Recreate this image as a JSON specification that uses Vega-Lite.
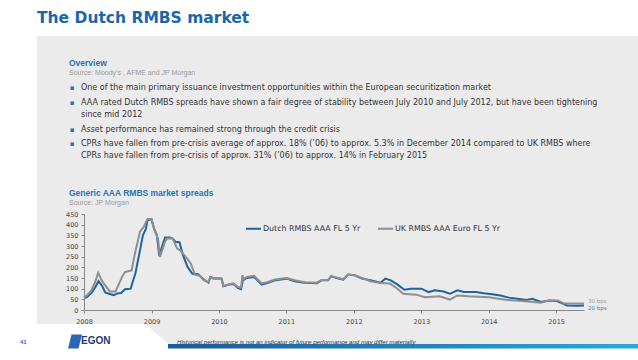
{
  "$schema": "https://vega.github.io/schema/vega-lite/v6.json",
  "width": 500,
  "height": 96,
  "autosize": {"type": "none"},
  "padding": {"left": 84, "top": 214, "right": 54, "bottom": 50},
  "background": "white",
  "config": {"view": {"stroke": null}, "font": "DejaVu Sans"},
  "data": {"values": [{}]},
  "layer": [
    {"mark": {"type": "rect", "x": -47, "x2": 554, "y": -178, "y2": 110, "fill": "#ebebeb"}, "encoding": {}},
    {"mark": {"type": "rect", "x": 86, "x2": 554, "y": 109, "y2": 131, "fill": "#ebebeb"}, "encoding": {}},
    {"mark": {"type": "point", "shape": "M-1,-0.84L1,-0.84L1,0.84Z", "size": 625, "x": 73.5, "y": 120.5, "filled": true, "fill": "#ebebeb", "stroke": null, "opacity": 1}, "encoding": {}},
    {"mark": {"type": "rect", "x": 84, "x2": 554, "y": 130, "y2": 134.5, "color": {"gradient": "linear", "x1": 0, "x2": 1, "y1": 0, "y2": 0, "stops": [{"offset": 0, "color": "#1b5896"}, {"offset": 1, "color": "#2aa9dd"}]}}, "encoding": {}},
    {"mark": {"type": "text", "text": "The Dutch RMBS market", "x": -47, "y": -196, "align": "left", "baseline": "middle", "font": "DejaVu Sans", "fontWeight": "bold", "fontSize": 15.5, "fill": "#1a67a8"}, "encoding": {}},
    {"mark": {"type": "rule", "x": -16, "x2": 518, "y": -160, "stroke": "#1f5f99", "strokeWidth": 1}, "encoding": {}},
    {"mark": {"type": "text", "text": "Overview", "x": -15, "y": -151, "align": "left", "baseline": "middle", "font": "Liberation Sans", "fontWeight": "bold", "fontSize": 8.5, "fill": "#2874b6"}, "encoding": {}},
    {"mark": {"type": "text", "text": "Source: Moody’s , AFME and JP Morgan", "x": -15, "y": -141, "align": "left", "baseline": "middle", "font": "Liberation Sans", "fontSize": 7, "fill": "#9a9a9a"}, "encoding": {}},
    {"mark": {"type": "text", "text": "▪", "x": -12, "y": -126, "align": "center", "baseline": "middle", "fontSize": 7, "fill": "#2874b6"}, "encoding": {}},
    {"mark": {"type": "text", "text": "One of the main primary issuance investment opportunities within the European securitization market", "x": -3, "y": -126, "align": "left", "baseline": "middle", "font": "DejaVu Sans", "fontSize": 8, "fill": "#333333"}, "encoding": {}},
    {"mark": {"type": "text", "text": "▪", "x": -12, "y": -111, "align": "center", "baseline": "middle", "fontSize": 7, "fill": "#2874b6"}, "encoding": {}},
    {"mark": {"type": "text", "text": "AAA rated Dutch RMBS spreads have shown a fair degree of stability between July 2010 and July 2012, but have been tightening", "x": -3, "y": -111, "align": "left", "baseline": "middle", "font": "DejaVu Sans", "fontSize": 8, "fill": "#333333"}, "encoding": {}},
    {"mark": {"type": "text", "text": "since mid 2012", "x": -3, "y": -99, "align": "left", "baseline": "middle", "font": "DejaVu Sans", "fontSize": 8, "fill": "#333333"}, "encoding": {}},
    {"mark": {"type": "text", "text": "▪", "x": -12, "y": -84, "align": "center", "baseline": "middle", "fontSize": 7, "fill": "#2874b6"}, "encoding": {}},
    {"mark": {"type": "text", "text": "Asset performance has remained strong through the credit crisis", "x": -3, "y": -84, "align": "left", "baseline": "middle", "font": "DejaVu Sans", "fontSize": 8, "fill": "#333333"}, "encoding": {}},
    {"mark": {"type": "text", "text": "▪", "x": -12, "y": -70, "align": "center", "baseline": "middle", "fontSize": 7, "fill": "#2874b6"}, "encoding": {}},
    {"mark": {"type": "text", "text": "CPRs have fallen from pre-crisis average of approx. 18% (’06) to approx. 5.3% in December 2014 compared to UK RMBS where", "x": -3, "y": -70, "align": "left", "baseline": "middle", "font": "DejaVu Sans", "fontSize": 8, "fill": "#333333"}, "encoding": {}},
    {"mark": {"type": "text", "text": "CPRs have fallen from pre-crisis of approx. 31% (’06) to approx. 14% in February 2015", "x": -3, "y": -58, "align": "left", "baseline": "middle", "font": "DejaVu Sans", "fontSize": 8, "fill": "#333333"}, "encoding": {}},
    {"mark": {"type": "rule", "x": -16, "x2": 518, "y": -31, "stroke": "#1f5f99", "strokeWidth": 1}, "encoding": {}},
    {"mark": {"type": "text", "text": "Generic AAA RMBS market spreads", "x": -15, "y": -21, "align": "left", "baseline": "middle", "font": "Liberation Sans", "fontWeight": "bold", "fontSize": 8.5, "fill": "#2874b6"}, "encoding": {}},
    {"mark": {"type": "text", "text": "Source: JP Morgan", "x": -15, "y": -11, "align": "left", "baseline": "middle", "font": "Liberation Sans", "fontSize": 7, "fill": "#9a9a9a"}, "encoding": {}},
    {"mark": {"type": "text", "text": "41", "x": -64, "y": 128, "align": "left", "baseline": "middle", "font": "Liberation Sans", "fontWeight": "bold", "fontSize": 6, "fill": "#3b6aa5"}, "encoding": {}},
    {"mark": {"type": "point", "shape": "M-0.5,-1L1,-1L0.5,1L-1,1Z", "size": 196, "x": -9, "y": 127.5, "filled": true, "fill": "#2a66b4", "stroke": null, "opacity": 1}, "encoding": {}},
    {"mark": {"type": "text", "text": "EGON", "x": -3, "y": 130, "align": "left", "baseline": "alphabetic", "font": "Liberation Sans", "fontWeight": "bold", "fontSize": 10, "fill": "#1c3c78"}, "encoding": {}},
    {"mark": {"type": "rule", "x": -1, "x2": 22, "y": 133, "stroke": "#9aa3b5", "strokeWidth": 0.8}, "encoding": {}},
    {"mark": {"type": "text", "text": "Historical performance is not an indicator of future performance and may differ materially", "x": 93, "y": 127.5, "align": "left", "baseline": "middle", "font": "Liberation Sans", "fontStyle": "italic", "fontSize": 6.1, "fill": "#333333"}, "encoding": {}},
    {
      "data": {"values": [
        {"date": "2008-01-01", "series": "Dutch RMBS AAA FL 5 Yr", "value": 55},
        {"date": "2008-01-20", "series": "Dutch RMBS AAA FL 5 Yr", "value": 62},
        {"date": "2008-02-10", "series": "Dutch RMBS AAA FL 5 Yr", "value": 80},
        {"date": "2008-03-01", "series": "Dutch RMBS AAA FL 5 Yr", "value": 105},
        {"date": "2008-03-20", "series": "Dutch RMBS AAA FL 5 Yr", "value": 135},
        {"date": "2008-04-10", "series": "Dutch RMBS AAA FL 5 Yr", "value": 110},
        {"date": "2008-04-25", "series": "Dutch RMBS AAA FL 5 Yr", "value": 82},
        {"date": "2008-05-20", "series": "Dutch RMBS AAA FL 5 Yr", "value": 75},
        {"date": "2008-06-10", "series": "Dutch RMBS AAA FL 5 Yr", "value": 70},
        {"date": "2008-07-01", "series": "Dutch RMBS AAA FL 5 Yr", "value": 78},
        {"date": "2008-07-20", "series": "Dutch RMBS AAA FL 5 Yr", "value": 80},
        {"date": "2008-08-10", "series": "Dutch RMBS AAA FL 5 Yr", "value": 97},
        {"date": "2008-09-10", "series": "Dutch RMBS AAA FL 5 Yr", "value": 100},
        {"date": "2008-09-20", "series": "Dutch RMBS AAA FL 5 Yr", "value": 130},
        {"date": "2008-10-05", "series": "Dutch RMBS AAA FL 5 Yr", "value": 170},
        {"date": "2008-10-25", "series": "Dutch RMBS AAA FL 5 Yr", "value": 257},
        {"date": "2008-11-15", "series": "Dutch RMBS AAA FL 5 Yr", "value": 350},
        {"date": "2008-12-01", "series": "Dutch RMBS AAA FL 5 Yr", "value": 380},
        {"date": "2008-12-10", "series": "Dutch RMBS AAA FL 5 Yr", "value": 420},
        {"date": "2008-12-31", "series": "Dutch RMBS AAA FL 5 Yr", "value": 426},
        {"date": "2009-01-15", "series": "Dutch RMBS AAA FL 5 Yr", "value": 380},
        {"date": "2009-01-30", "series": "Dutch RMBS AAA FL 5 Yr", "value": 350},
        {"date": "2009-02-10", "series": "Dutch RMBS AAA FL 5 Yr", "value": 265},
        {"date": "2009-02-20", "series": "Dutch RMBS AAA FL 5 Yr", "value": 280},
        {"date": "2009-03-15", "series": "Dutch RMBS AAA FL 5 Yr", "value": 340},
        {"date": "2009-04-10", "series": "Dutch RMBS AAA FL 5 Yr", "value": 340},
        {"date": "2009-04-25", "series": "Dutch RMBS AAA FL 5 Yr", "value": 335},
        {"date": "2009-05-10", "series": "Dutch RMBS AAA FL 5 Yr", "value": 320},
        {"date": "2009-06-01", "series": "Dutch RMBS AAA FL 5 Yr", "value": 318},
        {"date": "2009-06-20", "series": "Dutch RMBS AAA FL 5 Yr", "value": 257},
        {"date": "2009-07-15", "series": "Dutch RMBS AAA FL 5 Yr", "value": 202},
        {"date": "2009-08-10", "series": "Dutch RMBS AAA FL 5 Yr", "value": 170},
        {"date": "2009-09-10", "series": "Dutch RMBS AAA FL 5 Yr", "value": 168},
        {"date": "2009-10-10", "series": "Dutch RMBS AAA FL 5 Yr", "value": 144},
        {"date": "2009-11-05", "series": "Dutch RMBS AAA FL 5 Yr", "value": 128},
        {"date": "2009-11-15", "series": "Dutch RMBS AAA FL 5 Yr", "value": 155},
        {"date": "2009-12-01", "series": "Dutch RMBS AAA FL 5 Yr", "value": 148},
        {"date": "2010-01-15", "series": "Dutch RMBS AAA FL 5 Yr", "value": 148},
        {"date": "2010-01-25", "series": "Dutch RMBS AAA FL 5 Yr", "value": 111},
        {"date": "2010-02-25", "series": "Dutch RMBS AAA FL 5 Yr", "value": 119},
        {"date": "2010-03-20", "series": "Dutch RMBS AAA FL 5 Yr", "value": 122},
        {"date": "2010-04-15", "series": "Dutch RMBS AAA FL 5 Yr", "value": 103},
        {"date": "2010-05-01", "series": "Dutch RMBS AAA FL 5 Yr", "value": 98},
        {"date": "2010-05-10", "series": "Dutch RMBS AAA FL 5 Yr", "value": 139},
        {"date": "2010-06-01", "series": "Dutch RMBS AAA FL 5 Yr", "value": 150},
        {"date": "2010-07-10", "series": "Dutch RMBS AAA FL 5 Yr", "value": 155},
        {"date": "2010-08-20", "series": "Dutch RMBS AAA FL 5 Yr", "value": 119},
        {"date": "2010-09-20", "series": "Dutch RMBS AAA FL 5 Yr", "value": 126},
        {"date": "2010-11-01", "series": "Dutch RMBS AAA FL 5 Yr", "value": 139},
        {"date": "2011-01-01", "series": "Dutch RMBS AAA FL 5 Yr", "value": 147},
        {"date": "2011-02-20", "series": "Dutch RMBS AAA FL 5 Yr", "value": 134},
        {"date": "2011-04-10", "series": "Dutch RMBS AAA FL 5 Yr", "value": 128},
        {"date": "2011-06-15", "series": "Dutch RMBS AAA FL 5 Yr", "value": 126},
        {"date": "2011-07-10", "series": "Dutch RMBS AAA FL 5 Yr", "value": 139},
        {"date": "2011-08-15", "series": "Dutch RMBS AAA FL 5 Yr", "value": 139},
        {"date": "2011-09-01", "series": "Dutch RMBS AAA FL 5 Yr", "value": 158},
        {"date": "2011-10-10", "series": "Dutch RMBS AAA FL 5 Yr", "value": 147},
        {"date": "2011-11-05", "series": "Dutch RMBS AAA FL 5 Yr", "value": 142},
        {"date": "2011-12-01", "series": "Dutch RMBS AAA FL 5 Yr", "value": 166},
        {"date": "2012-01-05", "series": "Dutch RMBS AAA FL 5 Yr", "value": 163},
        {"date": "2012-02-15", "series": "Dutch RMBS AAA FL 5 Yr", "value": 147},
        {"date": "2012-04-01", "series": "Dutch RMBS AAA FL 5 Yr", "value": 139},
        {"date": "2012-05-25", "series": "Dutch RMBS AAA FL 5 Yr", "value": 128},
        {"date": "2012-06-20", "series": "Dutch RMBS AAA FL 5 Yr", "value": 147},
        {"date": "2012-07-20", "series": "Dutch RMBS AAA FL 5 Yr", "value": 139},
        {"date": "2012-08-25", "series": "Dutch RMBS AAA FL 5 Yr", "value": 119},
        {"date": "2012-10-01", "series": "Dutch RMBS AAA FL 5 Yr", "value": 95},
        {"date": "2012-11-05", "series": "Dutch RMBS AAA FL 5 Yr", "value": 100},
        {"date": "2013-01-01", "series": "Dutch RMBS AAA FL 5 Yr", "value": 100},
        {"date": "2013-02-10", "series": "Dutch RMBS AAA FL 5 Yr", "value": 84},
        {"date": "2013-03-15", "series": "Dutch RMBS AAA FL 5 Yr", "value": 92},
        {"date": "2013-05-01", "series": "Dutch RMBS AAA FL 5 Yr", "value": 87},
        {"date": "2013-06-05", "series": "Dutch RMBS AAA FL 5 Yr", "value": 76},
        {"date": "2013-07-15", "series": "Dutch RMBS AAA FL 5 Yr", "value": 92},
        {"date": "2013-08-20", "series": "Dutch RMBS AAA FL 5 Yr", "value": 84},
        {"date": "2013-10-25", "series": "Dutch RMBS AAA FL 5 Yr", "value": 84},
        {"date": "2013-12-05", "series": "Dutch RMBS AAA FL 5 Yr", "value": 78},
        {"date": "2014-01-20", "series": "Dutch RMBS AAA FL 5 Yr", "value": 74},
        {"date": "2014-03-05", "series": "Dutch RMBS AAA FL 5 Yr", "value": 68},
        {"date": "2014-04-20", "series": "Dutch RMBS AAA FL 5 Yr", "value": 58},
        {"date": "2014-06-15", "series": "Dutch RMBS AAA FL 5 Yr", "value": 52},
        {"date": "2014-07-25", "series": "Dutch RMBS AAA FL 5 Yr", "value": 47},
        {"date": "2014-08-25", "series": "Dutch RMBS AAA FL 5 Yr", "value": 53},
        {"date": "2014-10-10", "series": "Dutch RMBS AAA FL 5 Yr", "value": 38},
        {"date": "2014-11-25", "series": "Dutch RMBS AAA FL 5 Yr", "value": 45},
        {"date": "2015-01-05", "series": "Dutch RMBS AAA FL 5 Yr", "value": 42},
        {"date": "2015-02-10", "series": "Dutch RMBS AAA FL 5 Yr", "value": 29},
        {"date": "2015-03-01", "series": "Dutch RMBS AAA FL 5 Yr", "value": 21},
        {"date": "2015-04-25", "series": "Dutch RMBS AAA FL 5 Yr", "value": 20},
        {"date": "2015-06-01", "series": "Dutch RMBS AAA FL 5 Yr", "value": 21},
        {"date": "2008-01-01", "series": "UK RMBS AAA Euro FL 5 Yr", "value": 58},
        {"date": "2008-01-25", "series": "UK RMBS AAA Euro FL 5 Yr", "value": 75},
        {"date": "2008-02-10", "series": "UK RMBS AAA Euro FL 5 Yr", "value": 92},
        {"date": "2008-03-01", "series": "UK RMBS AAA Euro FL 5 Yr", "value": 130},
        {"date": "2008-03-18", "series": "UK RMBS AAA Euro FL 5 Yr", "value": 175},
        {"date": "2008-04-05", "series": "UK RMBS AAA Euro FL 5 Yr", "value": 140},
        {"date": "2008-04-25", "series": "UK RMBS AAA Euro FL 5 Yr", "value": 115},
        {"date": "2008-05-20", "series": "UK RMBS AAA Euro FL 5 Yr", "value": 87},
        {"date": "2008-06-20", "series": "UK RMBS AAA Euro FL 5 Yr", "value": 87},
        {"date": "2008-07-25", "series": "UK RMBS AAA Euro FL 5 Yr", "value": 155},
        {"date": "2008-08-10", "series": "UK RMBS AAA Euro FL 5 Yr", "value": 178},
        {"date": "2008-09-15", "series": "UK RMBS AAA Euro FL 5 Yr", "value": 186},
        {"date": "2008-10-01", "series": "UK RMBS AAA Euro FL 5 Yr", "value": 257},
        {"date": "2008-10-30", "series": "UK RMBS AAA Euro FL 5 Yr", "value": 367},
        {"date": "2008-11-20", "series": "UK RMBS AAA Euro FL 5 Yr", "value": 390},
        {"date": "2008-12-10", "series": "UK RMBS AAA Euro FL 5 Yr", "value": 426},
        {"date": "2008-12-31", "series": "UK RMBS AAA Euro FL 5 Yr", "value": 426},
        {"date": "2009-01-20", "series": "UK RMBS AAA Euro FL 5 Yr", "value": 367},
        {"date": "2009-02-05", "series": "UK RMBS AAA Euro FL 5 Yr", "value": 335},
        {"date": "2009-02-15", "series": "UK RMBS AAA Euro FL 5 Yr", "value": 249},
        {"date": "2009-03-15", "series": "UK RMBS AAA Euro FL 5 Yr", "value": 320},
        {"date": "2009-03-25", "series": "UK RMBS AAA Euro FL 5 Yr", "value": 335},
        {"date": "2009-04-25", "series": "UK RMBS AAA Euro FL 5 Yr", "value": 335},
        {"date": "2009-05-20", "series": "UK RMBS AAA Euro FL 5 Yr", "value": 288},
        {"date": "2009-06-05", "series": "UK RMBS AAA Euro FL 5 Yr", "value": 280},
        {"date": "2009-07-05", "series": "UK RMBS AAA Euro FL 5 Yr", "value": 249},
        {"date": "2009-08-01", "series": "UK RMBS AAA Euro FL 5 Yr", "value": 218},
        {"date": "2009-08-25", "series": "UK RMBS AAA Euro FL 5 Yr", "value": 165},
        {"date": "2009-09-20", "series": "UK RMBS AAA Euro FL 5 Yr", "value": 160},
        {"date": "2009-10-10", "series": "UK RMBS AAA Euro FL 5 Yr", "value": 140},
        {"date": "2009-11-05", "series": "UK RMBS AAA Euro FL 5 Yr", "value": 130},
        {"date": "2009-11-15", "series": "UK RMBS AAA Euro FL 5 Yr", "value": 152},
        {"date": "2009-12-01", "series": "UK RMBS AAA Euro FL 5 Yr", "value": 150},
        {"date": "2010-01-15", "series": "UK RMBS AAA Euro FL 5 Yr", "value": 145},
        {"date": "2010-01-25", "series": "UK RMBS AAA Euro FL 5 Yr", "value": 113},
        {"date": "2010-02-25", "series": "UK RMBS AAA Euro FL 5 Yr", "value": 121},
        {"date": "2010-03-20", "series": "UK RMBS AAA Euro FL 5 Yr", "value": 125},
        {"date": "2010-04-15", "series": "UK RMBS AAA Euro FL 5 Yr", "value": 108},
        {"date": "2010-05-01", "series": "UK RMBS AAA Euro FL 5 Yr", "value": 105},
        {"date": "2010-05-08", "series": "UK RMBS AAA Euro FL 5 Yr", "value": 163},
        {"date": "2010-05-15", "series": "UK RMBS AAA Euro FL 5 Yr", "value": 145},
        {"date": "2010-06-01", "series": "UK RMBS AAA Euro FL 5 Yr", "value": 155},
        {"date": "2010-07-10", "series": "UK RMBS AAA Euro FL 5 Yr", "value": 160},
        {"date": "2010-08-20", "series": "UK RMBS AAA Euro FL 5 Yr", "value": 125},
        {"date": "2010-09-20", "series": "UK RMBS AAA Euro FL 5 Yr", "value": 130},
        {"date": "2010-11-01", "series": "UK RMBS AAA Euro FL 5 Yr", "value": 143},
        {"date": "2011-01-01", "series": "UK RMBS AAA Euro FL 5 Yr", "value": 150},
        {"date": "2011-02-20", "series": "UK RMBS AAA Euro FL 5 Yr", "value": 138},
        {"date": "2011-04-10", "series": "UK RMBS AAA Euro FL 5 Yr", "value": 130},
        {"date": "2011-06-15", "series": "UK RMBS AAA Euro FL 5 Yr", "value": 128},
        {"date": "2011-07-10", "series": "UK RMBS AAA Euro FL 5 Yr", "value": 141},
        {"date": "2011-08-15", "series": "UK RMBS AAA Euro FL 5 Yr", "value": 141},
        {"date": "2011-09-01", "series": "UK RMBS AAA Euro FL 5 Yr", "value": 158},
        {"date": "2011-10-10", "series": "UK RMBS AAA Euro FL 5 Yr", "value": 150},
        {"date": "2011-11-05", "series": "UK RMBS AAA Euro FL 5 Yr", "value": 144},
        {"date": "2011-12-01", "series": "UK RMBS AAA Euro FL 5 Yr", "value": 165},
        {"date": "2012-01-05", "series": "UK RMBS AAA Euro FL 5 Yr", "value": 163},
        {"date": "2012-02-15", "series": "UK RMBS AAA Euro FL 5 Yr", "value": 150},
        {"date": "2012-04-01", "series": "UK RMBS AAA Euro FL 5 Yr", "value": 135},
        {"date": "2012-05-25", "series": "UK RMBS AAA Euro FL 5 Yr", "value": 126},
        {"date": "2012-07-15", "series": "UK RMBS AAA Euro FL 5 Yr", "value": 124},
        {"date": "2012-08-25", "series": "UK RMBS AAA Euro FL 5 Yr", "value": 100},
        {"date": "2012-09-25", "series": "UK RMBS AAA Euro FL 5 Yr", "value": 76},
        {"date": "2012-12-05", "series": "UK RMBS AAA Euro FL 5 Yr", "value": 72},
        {"date": "2013-01-20", "series": "UK RMBS AAA Euro FL 5 Yr", "value": 60},
        {"date": "2013-04-10", "series": "UK RMBS AAA Euro FL 5 Yr", "value": 64},
        {"date": "2013-06-05", "series": "UK RMBS AAA Euro FL 5 Yr", "value": 49},
        {"date": "2013-07-15", "series": "UK RMBS AAA Euro FL 5 Yr", "value": 68},
        {"date": "2013-09-15", "series": "UK RMBS AAA Euro FL 5 Yr", "value": 64},
        {"date": "2014-01-01", "series": "UK RMBS AAA Euro FL 5 Yr", "value": 60},
        {"date": "2014-04-01", "series": "UK RMBS AAA Euro FL 5 Yr", "value": 48},
        {"date": "2014-07-01", "series": "UK RMBS AAA Euro FL 5 Yr", "value": 42},
        {"date": "2014-10-10", "series": "UK RMBS AAA Euro FL 5 Yr", "value": 34},
        {"date": "2014-11-25", "series": "UK RMBS AAA Euro FL 5 Yr", "value": 45},
        {"date": "2015-01-10", "series": "UK RMBS AAA Euro FL 5 Yr", "value": 45},
        {"date": "2015-02-15", "series": "UK RMBS AAA Euro FL 5 Yr", "value": 30},
        {"date": "2015-06-01", "series": "UK RMBS AAA Euro FL 5 Yr", "value": 30}
      ]},
      "mark": {"type": "line", "strokeWidth": 2, "interpolate": "linear"},
      "encoding": {
        "x": {"field": "date", "type": "temporal", "title": null,
              "scale": {"type": "utc", "domain": ["2008-01-01", "2015-06-01"]},
              "axis": {"zindex": 1, "format": "%Y", "tickCount": {"interval": "year", "step": 1}, "grid": false, "labelFlush": false, "labelOverlap": false, "labelFontSize": 6.5, "labelColor": "#444444", "labelFont": "DejaVu Sans", "domainColor": "#888888", "tickColor": "#888888", "tickSize": 3, "labelPadding": 5}},
        "y": {"field": "value", "type": "quantitative", "title": null,
              "scale": {"domain": [0, 450], "nice": false},
              "axis": {"zindex": 1, "values": [0, 50, 100, 150, 200, 250, 300, 350, 400, 450], "grid": false, "labelFlush": false, "labelOverlap": false, "labelFontSize": 6.5, "labelColor": "#444444", "labelFont": "DejaVu Sans", "domainColor": "#888888", "tickColor": "#888888", "tickSize": 3, "labelPadding": 3}},
        "color": {"field": "series", "type": "nominal", "title": null,
                  "scale": {"domain": ["Dutch RMBS AAA FL 5 Yr", "UK RMBS AAA Euro FL 5 Yr"], "range": ["#1f62a0", "#8f8f8f"]},
                  "legend": {"orient": "none", "legendX": 161, "legendY": 6, "direction": "horizontal", "symbolType": "stroke", "symbolSize": 225, "symbolStrokeWidth": 2, "labelFontSize": 7.9, "labelFont": "DejaVu Sans", "labelColor": "#333333", "columnPadding": 13, "labelOffset": 1}},
        "order": {"field": "date", "type": "temporal"}
      }
    },
    {
      "data": {"values": [{"date": "2015-06-01", "value": 30, "label": "30 bps"}]},
      "mark": {"type": "text", "align": "left", "baseline": "middle", "dx": 4, "dy": -2.5, "fontSize": 5.5, "fill": "#a0a0a0"},
      "encoding": {
        "x": {"field": "date", "type": "temporal", "title": null,
              "scale": {"type": "utc", "domain": ["2008-01-01", "2015-06-01"]},
              "axis": {"zindex": 1, "format": "%Y", "tickCount": {"interval": "year", "step": 1}, "grid": false, "labelFlush": false, "labelOverlap": false, "labelFontSize": 6.5, "labelColor": "#444444", "labelFont": "DejaVu Sans", "domainColor": "#888888", "tickColor": "#888888", "tickSize": 3, "labelPadding": 5}},
        "y": {"field": "value", "type": "quantitative", "title": null,
              "scale": {"domain": [0, 450], "nice": false},
              "axis": {"zindex": 1, "values": [0, 50, 100, 150, 200, 250, 300, 350, 400, 450], "grid": false, "labelFlush": false, "labelOverlap": false, "labelFontSize": 6.5, "labelColor": "#444444", "labelFont": "DejaVu Sans", "domainColor": "#888888", "tickColor": "#888888", "tickSize": 3, "labelPadding": 3}},
        "text": {"field": "label"}}
    },
    {
      "data": {"values": [{"date": "2015-06-01", "value": 20, "label": "20 bps"}]},
      "mark": {"type": "text", "align": "left", "baseline": "middle", "dx": 4, "dy": 2.5, "fontSize": 5.5, "fill": "#3a7fc0"},
      "encoding": {
        "x": {"field": "date", "type": "temporal", "title": null,
              "scale": {"type": "utc", "domain": ["2008-01-01", "2015-06-01"]},
              "axis": {"zindex": 1, "format": "%Y", "tickCount": {"interval": "year", "step": 1}, "grid": false, "labelFlush": false, "labelOverlap": false, "labelFontSize": 6.5, "labelColor": "#444444", "labelFont": "DejaVu Sans", "domainColor": "#888888", "tickColor": "#888888", "tickSize": 3, "labelPadding": 5}},
        "y": {"field": "value", "type": "quantitative", "title": null,
              "scale": {"domain": [0, 450], "nice": false},
              "axis": {"zindex": 1, "values": [0, 50, 100, 150, 200, 250, 300, 350, 400, 450], "grid": false, "labelFlush": false, "labelOverlap": false, "labelFontSize": 6.5, "labelColor": "#444444", "labelFont": "DejaVu Sans", "domainColor": "#888888", "tickColor": "#888888", "tickSize": 3, "labelPadding": 3}},
        "text": {"field": "label"}}
    }
  ]
}
